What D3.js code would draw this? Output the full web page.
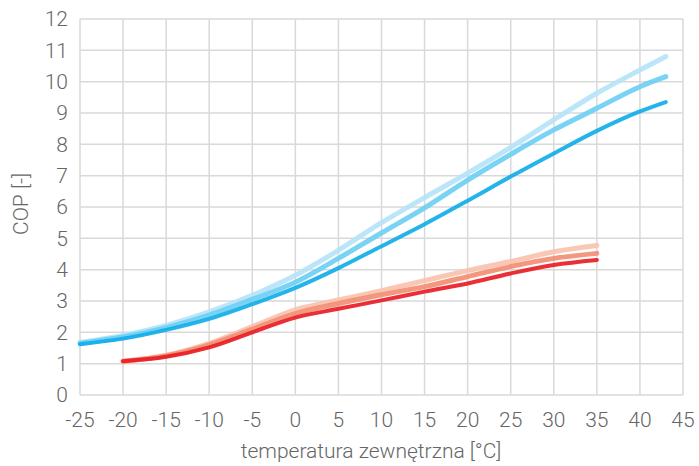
<!DOCTYPE html>
<html><head><meta charset="utf-8">
<script src="https://cdn.jsdelivr.net/npm/d3@7"></script>
<style>
html,body{margin:0;padding:0;background:#fff;}
text{font-family:Roboto,"Open Sans",sans-serif;font-weight:300;fill:#666;}
</style></head>
<body><svg id="c" width="699" height="466"></svg>
<script>
const xTicks = [-25,-20,-15,-10,-5,0,5,10,15,20,25,30,35,40,45];
const yTicks = [0,1,2,3,4,5,6,7,8,9,10,11,12];
const tempBlue = [-25,-20,-15,-10,-5,0,5,10,15,20,25,30,35,40,43];
const blueDark  = [1.62,1.80,2.08,2.43,2.90,3.42,4.05,4.75,5.45,6.20,6.97,7.71,8.43,9.05,9.35];
const blueMid   = [1.65,1.85,2.15,2.55,3.05,3.60,4.36,5.17,5.97,6.86,7.68,8.46,9.15,9.84,10.16];
const blueLight = [1.68,1.90,2.22,2.65,3.18,3.82,4.62,5.50,6.30,7.08,7.90,8.78,9.63,10.37,10.80];
const tempRed = [-20,-15,-10,-5,0,5,10,15,20,25,30,35];
const redDark  = [1.08,1.22,1.52,2.00,2.47,2.75,3.02,3.30,3.56,3.88,4.15,4.31];
const redMid   = [1.08,1.25,1.60,2.10,2.60,2.92,3.20,3.46,3.78,4.10,4.36,4.52];
const redLight = [1.08,1.27,1.65,2.18,2.72,3.03,3.33,3.65,3.97,4.26,4.57,4.77];
const xTitle = "temperatura zewnętrzna [°C]";
const yTitle = "COP [-]";

const svg = d3.select("#c");
const L = 80, R = 683, T = 19, B = 395;
const x = d3.scaleLinear().domain([-25,45]).range([L,R]);
const y = d3.scaleLinear().domain([0,12]).range([B,T]);

const g = svg.append("g");
g.selectAll(".vx").data(xTicks).enter().append("line")
  .attr("x1",d=>x(d)).attr("x2",d=>x(d)).attr("y1",T).attr("y2",B)
  .attr("stroke","#d9d9d9").attr("stroke-width",1.5);
g.selectAll(".hy").data(yTicks).enter().append("line")
  .attr("x1",L).attr("x2",R).attr("y1",d=>y(d)).attr("y2",d=>y(d))
  .attr("stroke","#d9d9d9").attr("stroke-width",1.5);

svg.selectAll(".xl").data(xTicks).enter().append("text")
  .attr("x",d=>x(d)).attr("y",427).attr("text-anchor","middle")
  .attr("font-size",21).text(d=>d);
svg.selectAll(".yl").data(yTicks).enter().append("text")
  .attr("x",68).attr("y",d=>y(d)).attr("dy","0.35em").attr("text-anchor","end")
  .attr("font-size",21).text(d=>d);

svg.append("text").attr("x",371).attr("y",458).attr("text-anchor","middle")
  .attr("font-size",21).text(xTitle);
svg.append("text").attr("transform","translate(28,204) rotate(-90)")
  .attr("text-anchor","middle").attr("font-size",21).text(yTitle);

const line = d3.line().x(d=>x(d[0])).y(d=>y(d[1])).curve(d3.curveMonotoneX);
const series = [
  {t:tempBlue, v:blueLight, c:"#b5e4f8", w:5},
  {t:tempBlue, v:blueMid, c:"#6dcff3", w:5},
  {t:tempBlue, v:blueDark, c:"#12aee8", w:4},
  {t:tempRed, v:redLight, c:"#f9c2ac", w:5},
  {t:tempRed, v:redMid, c:"#f28e74", w:5},
  {t:tempRed, v:redDark, c:"#e81d25", w:4}
];
series.forEach(s=>{
  svg.append("path").datum(s.t.map((t,i)=>[t,s.v[i]]))
    .attr("d",line).attr("fill","none").attr("stroke",s.c)
    .attr("stroke-width",s.w).attr("stroke-linecap","round").attr("stroke-linejoin","round")
    .attr("opacity",0.92);
});
</script></body></html>
